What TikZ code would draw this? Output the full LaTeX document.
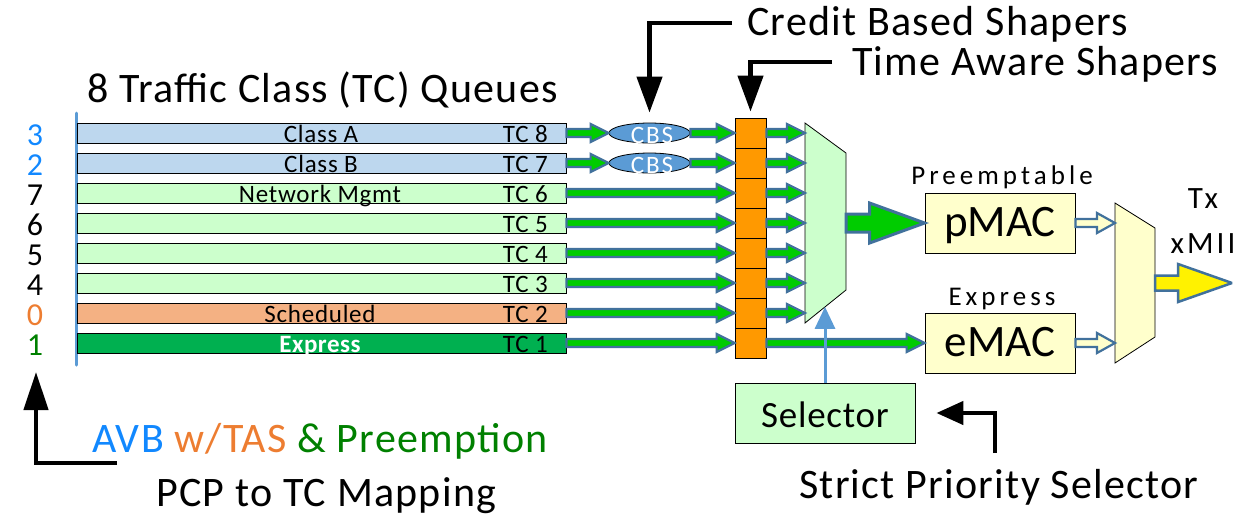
\documentclass[tikz,border=0pt]{standalone}
\usepackage{fontspec}
\setmainfont{Carlito}
\usetikzlibrary{arrows.meta,calc,shapes.geometric}

\definecolor{qblue}{RGB}{189,215,238}
\definecolor{qgreen}{RGB}{204,255,204}
\definecolor{qorange}{RGB}{244,177,131}
\definecolor{qexpress}{RGB}{0,176,80}
\definecolor{tasorange}{RGB}{255,153,0}
\definecolor{edgeblue}{RGB}{65,113,156}
\definecolor{flowgreen}{RGB}{0,204,0}
\definecolor{cbsblue}{RGB}{91,155,213}
\definecolor{macyellow}{RGB}{255,255,204}
\definecolor{pcpblue}{RGB}{17,136,255}
\definecolor{pcporange}{RGB}{237,125,49}
\definecolor{pcpgreen}{RGB}{0,128,0}

\newcommand\fsz[1]{\fontsize{#1}{#1}\selectfont}

% horizontal block arrow from #2 to #3: shaft half-height #4, head half-height #5, head length #6
\newcommand\blockarrow[6][]{%
  \filldraw[#1] let \p1=(#2), \p2=(#3) in
    (\x1,\y1+#4) -- (\x2-#6,\y1+#4) -- (\x2-#6,\y1+#5) -- (\x2,\y1)
    -- (\x2-#6,\y1-#5) -- (\x2-#6,\y1-#4) -- (\x1,\y1-#4) -- cycle;}

\tikzset{
  flow/.style={draw=edgeblue, fill=flowgreen, line width=2.2pt, line join=miter, miter limit=3},
  hollow/.style={draw=edgeblue, fill=macyellow, line width=2.2pt, miter limit=3},
  txout/.style={draw=edgeblue, fill=yellow, line width=2.5pt, miter limit=3},
  qbar/.style={draw=black, line width=0.8pt, minimum width=489pt, minimum height=20pt, inner sep=0pt},
  tascell/.style={draw=black, fill=tasorange, line width=0.8pt, minimum width=31pt, minimum height=30pt, inner sep=0pt},
  cbs/.style={ellipse, draw=black, fill=cbsblue, line width=0.8pt, minimum width=81pt, minimum height=20pt, inner sep=0pt},
  macbox/.style={draw=black, fill=macyellow, line width=0.8pt, minimum width=150pt, minimum height=60pt, inner sep=0pt,
    font=\fsz{45}, text height=30pt, text depth=4pt},
  selbox/.style={draw=black, fill=qgreen, line width=0.8pt, minimum width=180pt, minimum height=60pt, inner sep=0pt,
    font=\fsz{37}\addfontfeature{LetterSpace=2}, text height=30pt, text depth=2pt},
  callout/.style={line width=4.5pt, -{Triangle[length=36pt,width=25pt]}},
  txt/.style={inner sep=0pt, anchor=base west, font=\fsz{42}\addfontfeature{LetterSpace=3}},
  qlbl/.style={inner sep=0pt, anchor=base, font=\fsz{25}\addfontfeature{LetterSpace=3}},
  spaced/.style={inner sep=0pt, anchor=base, font=\fsz{27}\addfontfeature{LetterSpace=15}},
}

\begin{document}
\begin{tikzpicture}[x=1pt, y=-1pt]
\useasboundingbox (0,0) rectangle (1258,515);

% PCP values and queue bars
\draw[cbsblue, line width=3pt, line cap=round] (76,113) -- (76,365);
\foreach \i/\d/\c in {1/3/pcpblue, 2/2/pcpblue, 3/7/black, 4/6/black, 5/5/black, 6/4/black, 7/0/pcporange, 8/1/pcpgreen}
  {\node[inner sep=0pt, anchor=base, font=\fsz{32}, text=\c] (pcp\i) at (35,{145+30*(\i-1)}) {\d};}
\foreach \i/\c in {1/qblue, 2/qblue, 3/qgreen, 4/qgreen, 5/qgreen, 6/qgreen, 7/qorange, 8/qexpress}
  {\node[qbar, fill=\c] (q\i) at (321.5,{133+30*(\i-1)}) {};}
\node[qlbl] at (321,142) {Class A};
\node[qlbl] at (321,172) {Class B};
\node[qlbl] at (320,202) {Network Mgmt};
\node[qlbl] at (320,322) {Scheduled};
\node[qlbl, text=white, font=\fsz{25}\bfseries\addfontfeature{LetterSpace=2}] at (320,352) {Express};
\foreach \i/\t in {1/8, 2/7, 3/6, 4/5, 5/4, 6/3, 7/2, 8/1}
  {\node[qlbl, anchor=base east] at (548,{142+30*(\i-1)}) {TC \t};}

\node[txt] (title) at (87,102) {8 Traffic Class (TC) Queues};

% credit based shapers
\foreach \i in {1,2} {
  \node[cbs] (cbs\i) at (649.5,{133+30*(\i-1)}) {};
  \node[inner sep=0pt, anchor=base, text=white, font=\fsz{25}\addfontfeature{LetterSpace=8}] at (652,{143+30*(\i-1)}) {CBS};
}

% time aware shapers
\foreach \i in {1,...,8}
  {\node[tascell] (tas\i) at (750.5,{133+30*(\i-1)}) {};}

% transmission selection multiplexer
\coordinate (m1a) at (805,123);
\coordinate (m1b) at (846,153);
\coordinate (m1c) at (846,290);
\coordinate (m1d) at (805,323);
\filldraw[fill=qgreen, draw=black, line width=0.8pt] (m1a) -- (m1b) -- (m1c) -- (m1d) -- cycle;
\foreach \i in {1,...,7}
  {\coordinate (in\i) at (805,{133+30*(\i-1)});}
\coordinate (muxout) at (846,223);

% MACs and output multiplexer
\node[macbox] (pmac) at (1000,223) {pMAC};
\node[macbox] (emac) at (1000,343) {eMAC};
\node[spaced] at (1002,184) {Preemptable};
\node[spaced] at (1002,305) {Express};

\coordinate (m2a) at (1115,203);
\coordinate (m2b) at (1155,228);
\coordinate (m2c) at (1155,337);
\coordinate (m2d) at (1115,363);
\filldraw[fill=macyellow, draw=black, line width=0.8pt] (m2a) -- (m2b) -- (m2c) -- (m2d) -- cycle;
\coordinate (min1) at (1115,223);
\coordinate (min2) at (1115,343);
\coordinate (mux2out) at (1155,283);
\coordinate (txtip) at (1232,283);
\node[spaced, font=\fsz{31}\addfontfeature{LetterSpace=10}] at (1203,208) {Tx};
\node[spaced, font=\fsz{31}\addfontfeature{LetterSpace=10}] at (1203,253) {xMII};

% flow arrows
\foreach \i in {1,2} {
  \blockarrow[flow]{q\i.east}{cbs\i.west}{4}{9}{18}
  \blockarrow[flow]{cbs\i.east}{tas\i.west}{4}{9}{18}
}
\foreach \i in {3,...,8}
  {\blockarrow[flow]{q\i.east}{tas\i.west}{4}{9}{18}}
\foreach \i in {1,...,7}
  {\blockarrow[flow]{tas\i.east}{in\i}{4}{9}{18}}
\blockarrow[flow]{tas8.east}{emac.west}{4}{9}{18}
\blockarrow[flow, line width=3pt]{muxout}{pmac.west}{9}{20}{55}
\blockarrow[hollow]{pmac.east}{min1}{4}{10}{18}
\blockarrow[hollow]{emac.east}{min2}{4}{10}{18}
\blockarrow[txout]{mux2out}{txtip}{7.5}{19}{54}

% selector
\node[selbox] (sel) at (825,413) {Selector};
\coordinate (selin) at ($(m1d)!0.49!(m1c)$);
\draw[cbsblue, line width=3pt, -{Triangle[length=22pt,width=20pt]}] (sel.north) -- (sel.north |- selin);

% callouts
\node[txt] (cbstxt) at (747,35) {Credit Based Shapers};
\node[txt] (tastxt) at (852,75) {Time Aware Shapers};
\coordinate (cbsfrom) at (732,23);
\coordinate (tasfrom) at (832,62);
\draw[callout, shorten >=10pt] (cbsfrom) -| (cbs1.north);
\draw[callout, shorten >=6pt] (tasfrom) -| (tas1.north);

\node[txt] (avb) at (92,452) {\textcolor{pcpblue}{AVB} \textcolor{pcporange}{w/TAS} \textcolor{pcpgreen}{\& Preemption}};
\node[txt] (pcpmap) at (156,506) {PCP to TC Mapping};
\coordinate (pcpfrom) at (117,463);
\coordinate (pcpto) at (36,372);
\draw[line width=4.5pt, -{Triangle[length=38pt,width=24pt]}] (pcpfrom) -| (pcpto);

\node[txt] (sptxt) at (799,498) {Strict Priority Selector};
\coordinate (spfrom) at (995,453);
\draw[line width=4.5pt, -{Triangle[length=27pt,width=23pt]}, shorten >=21pt] (spfrom) |- (sel.east);
\end{tikzpicture}
\end{document}
